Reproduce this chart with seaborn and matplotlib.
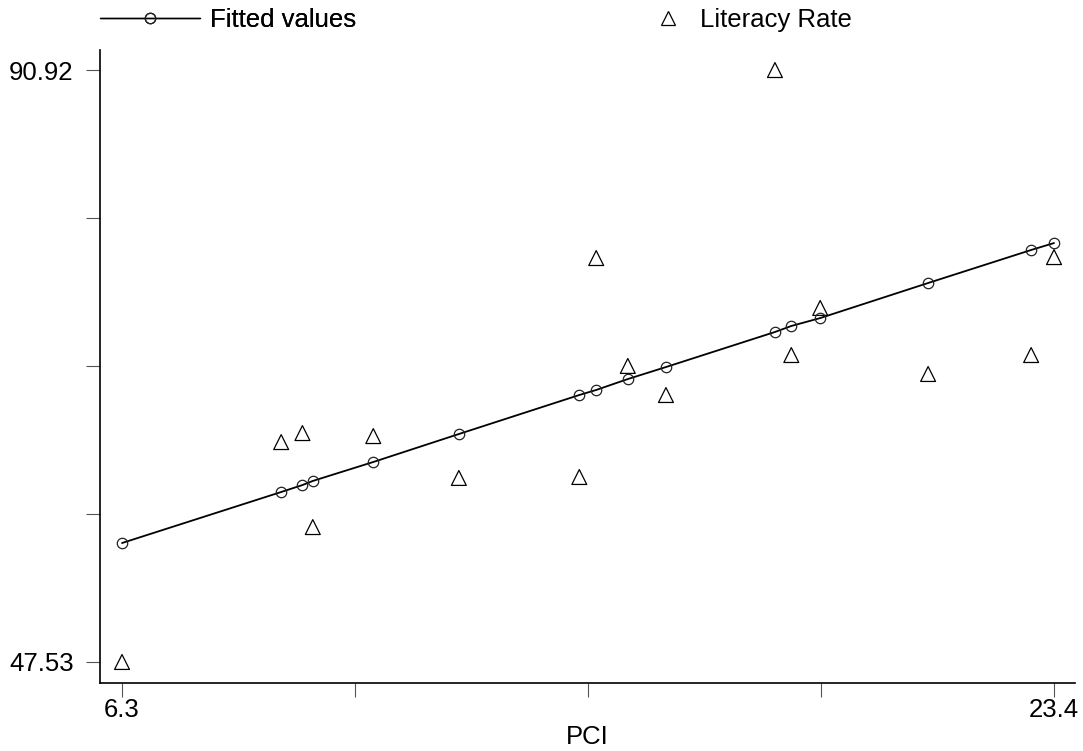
import matplotlib
matplotlib.use("Agg")
import matplotlib.pyplot as plt
from matplotlib.lines import Line2D
import numpy as np
import pandas as pd
import seaborn as sns

# values
pci = [6.30, 9.22, 9.61, 9.80, 10.91, 12.48, 14.69, 15.00, 15.58, 16.28,
       18.28, 18.58, 19.11, 21.09, 22.98, 23.40]
literacy = [47.53, 63.65, 64.31, 57.42, 64.09, 61.02, 61.09, 77.14, 69.23, 67.10,
            90.92, 70.03, 73.48, 68.64, 70.03, 77.21]
fitted = [56.25, 59.99, 60.50, 60.80, 62.19, 64.24, 67.10, 67.47, 68.27, 69.15,
          71.72, 72.16, 72.74, 75.31, 77.73, 78.24]

x_ticks = [6.3, 10.575, 14.85, 19.125, 23.4]
x_ticklabels = ["6.3", "", "", "", "23.4"]
y_ticks = [47.53, 58.3775, 69.225, 80.0725, 90.92]
y_ticklabels = ["47.53", "", "", "", "90.92"]

df = pd.DataFrame({"PCI": pci, "Literacy Rate": literacy, "Fitted values": fitted})

sns.set_style("ticks")
plt.rcParams["font.family"] = ["Liberation Sans", "DejaVu Sans"]
plt.rcParams["text.color"] = "black"
plt.rcParams["axes.labelcolor"] = "black"
plt.rcParams["xtick.labelcolor"] = "black"
plt.rcParams["ytick.labelcolor"] = "black"

FS = 18.5

fig = plt.figure(figsize=(10.83, 7.51), dpi=100)
ax = fig.add_axes([100 / 1083, 1 - 683 / 751, 975 / 1083, 633 / 751])

sns.lineplot(data=df, x="PCI", y="Fitted values", ax=ax, color="black", lw=1.3,
             marker="o", markersize=7.5, markerfacecolor="none",
             markeredgecolor="#222222", markeredgewidth=0.9, sort=True)
sns.scatterplot(data=df, x="PCI", y="Literacy Rate", ax=ax, marker="^", s=115,
                facecolor="none", edgecolor="black", linewidth=0.9)

ax.set_xlim(5.896, 23.785)
ax.set_ylim(45.99, 92.39)
ax.set_xticks(x_ticks)
ax.set_xticklabels(x_ticklabels)
ax.set_yticks(y_ticks)
ax.set_yticklabels(y_ticklabels)
ax.tick_params(axis="both", direction="out", length=10, width=0.8, color="#555555",
               labelsize=FS, labelcolor="black")
ax.tick_params(axis="y", pad=9)
ax.tick_params(axis="x", pad=1)
ax.set_xlabel("PCI", fontsize=FS, labelpad=2, color="black")
ax.set_ylabel("")
for side in ["top", "right"]:
    ax.spines[side].set_visible(False)
for side in ["left", "bottom"]:
    ax.spines[side].set_linewidth(1.2)
    ax.spines[side].set_color("black")

h_fit = Line2D([], [], color="black", lw=1.0, marker="o", markersize=7.5,
               markerfacecolor="none", markeredgecolor="#222222", markeredgewidth=0.9)
h_lit = Line2D([], [], lw=0, marker="^", markersize=9.5,
               markerfacecolor="none", markeredgecolor="black", markeredgewidth=0.9)
leg1 = fig.legend([h_fit], ["Fitted values"], loc="center left",
                  bbox_to_anchor=(100 / 1083, 1 - 20 / 751), frameon=False,
                  fontsize=FS, handlelength=3.9, handletextpad=0.4,
                  borderpad=0, borderaxespad=0, labelcolor="black")
leg2 = fig.legend([h_lit], ["Literacy Rate"], loc="center left",
                  bbox_to_anchor=(646 / 1083, 1 - 20 / 751), frameon=False,
                  fontsize=FS, handlelength=1.7, handletextpad=0.4,
                  borderpad=0, borderaxespad=0, labelcolor="black")
fig.add_artist(leg1)

fig.savefig("out.png", dpi=100)
